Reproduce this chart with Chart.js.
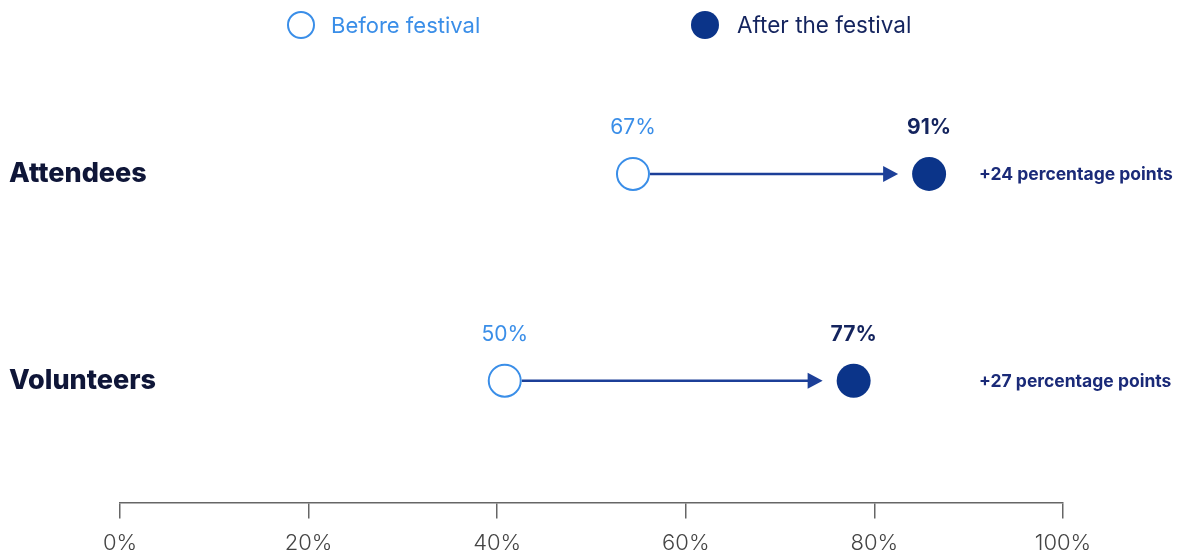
<!DOCTYPE html>
<html>
<head>
<meta charset="utf-8">
<script src="https://cdn.jsdelivr.net/npm/chart.js@4.4.1/dist/chart.umd.min.js"></script>
<style>
html,body{margin:0;padding:0;background:#fff;}
#wrap{width:1185px;height:555px;position:relative;}
</style>
</head>
<body>
<div id="wrap"><canvas id="c" width="1185" height="555"></canvas></div>
<script>
// ---- data ----
const categories = ['Attendees', 'Volunteers'];
const beforeValues = [54.4, 40.8];      // positions
const afterValues = [85.8, 77.8];
const beforeLabels = ['67%', '50%'];
const afterLabels = ['91%', '77%'];
const changeLabels = ['+24 percentage points', '+27 percentage points'];
const xTicks = [0, 20, 40, 60, 80, 100];
const legendLabels = ['Before festival', 'After the festival'];

const BEFORE = '#3a8ee8';
const AFTER = '#0b3489';
const ARROW = '#1c3f98';
const NAVY = '#14245e';
const FONT = 'Inter, "Open Sans", sans-serif';

const overlay = {
  id: 'overlay',
  beforeDatasetsDraw(chart) {
    const {ctx, scales: {x, y}} = chart;
    ctx.save();
    categories.forEach((c, i) => {
      const yy = y.getPixelForValue(i);
      const x0 = x.getPixelForValue(beforeValues[i]) + 17;
      const tip = x.getPixelForValue(afterValues[i]) - 31;
      ctx.strokeStyle = ARROW;
      ctx.lineWidth = 2.5;
      ctx.beginPath();
      ctx.moveTo(x0, yy);
      ctx.lineTo(tip - 10, yy);
      ctx.stroke();
      ctx.fillStyle = ARROW;
      ctx.beginPath();
      ctx.moveTo(tip, yy);
      ctx.lineTo(tip - 15, yy - 8);
      ctx.lineTo(tip - 15, yy + 8);
      ctx.closePath();
      ctx.fill();
    });
    ctx.restore();
  },
  afterDraw(chart) {
    const {ctx, scales: {x, y}} = chart;
    ctx.save();
    ctx.textBaseline = 'middle';
    categories.forEach((c, i) => {
      const yy = y.getPixelForValue(i);
      // category label
      ctx.fillStyle = '#0f1638';
      ctx.font = '800 27px ' + FONT;
      ctx.textAlign = 'left';
      ctx.fillText(c, 9, yy);
      // value labels
      ctx.textAlign = 'center';
      ctx.font = '21px ' + FONT;
      ctx.fillStyle = BEFORE;
      ctx.fillText(beforeLabels[i], x.getPixelForValue(beforeValues[i]), yy - 46);
      ctx.font = 'bold 21px ' + FONT;
      ctx.fillStyle = NAVY;
      ctx.fillText(afterLabels[i], x.getPixelForValue(afterValues[i]), yy - 46);
      // change annotation
      ctx.textAlign = 'left';
      ctx.font = 'bold 17.5px ' + FONT;
      ctx.fillStyle = '#1a2a78';
      ctx.fillText(changeLabels[i], 979, yy + 1);
    });
    // legend
    const ly = 25;
    ctx.lineWidth = 2;
    ctx.strokeStyle = BEFORE;
    ctx.fillStyle = '#fff';
    ctx.beginPath(); ctx.arc(301, ly, 13, 0, Math.PI * 2); ctx.fill(); ctx.stroke();
    ctx.fillStyle = AFTER;
    ctx.beginPath(); ctx.arc(705, ly, 14, 0, Math.PI * 2); ctx.fill();
    ctx.textAlign = 'left';
    ctx.font = '22px ' + FONT;
    ctx.fillStyle = BEFORE;
    ctx.fillText(legendLabels[0], 331, ly + 1);
    ctx.font = '22.5px ' + FONT;
    ctx.fillStyle = NAVY;
    ctx.fillText(legendLabels[1], 737, ly + 1);
    ctx.restore();
  }
};

new Chart(document.getElementById('c'), {
  type: 'scatter',
  data: {
    datasets: [
      {
        label: legendLabels[0],
        data: beforeValues.map((v, i) => ({x: v, y: i})),
        pointRadius: 16,
        pointBackgroundColor: '#fff',
        pointBorderColor: BEFORE,
        pointBorderWidth: 2
      },
      {
        label: legendLabels[1],
        data: afterValues.map((v, i) => ({x: v, y: i})),
        pointRadius: 17,
        pointBackgroundColor: AFTER,
        pointBorderColor: AFTER,
        pointBorderWidth: 0
      }
    ]
  },
  options: {
    responsive: false,
    animation: false,
    layout: {padding: {left: 120, right: 122, top: 70.5, bottom: -14}},
    plugins: {legend: {display: false}, tooltip: {enabled: false}},
    scales: {
      x: {
        type: 'linear',
        min: 0, max: 100,
        afterBuildTicks: s => { s.ticks = xTicks.map(v => ({value: v})); },
        grid: {drawOnChartArea: false, drawTicks: true, tickLength: 16, color: '#666', lineWidth: 1.5},
        border: {display: true, color: '#666', width: 1.5},
        ticks: {
          padding: 12,
          color: '#444',
          font: {family: FONT, size: 22, weight: '300'},
          callback: v => v + '%'
        }
      },
      y: {
        type: 'linear',
        reverse: true,
        display: false,
        min: -0.5,
        max: 1.5894
      }
    }
  },
  plugins: [overlay]
});
</script>
</body>
</html>
